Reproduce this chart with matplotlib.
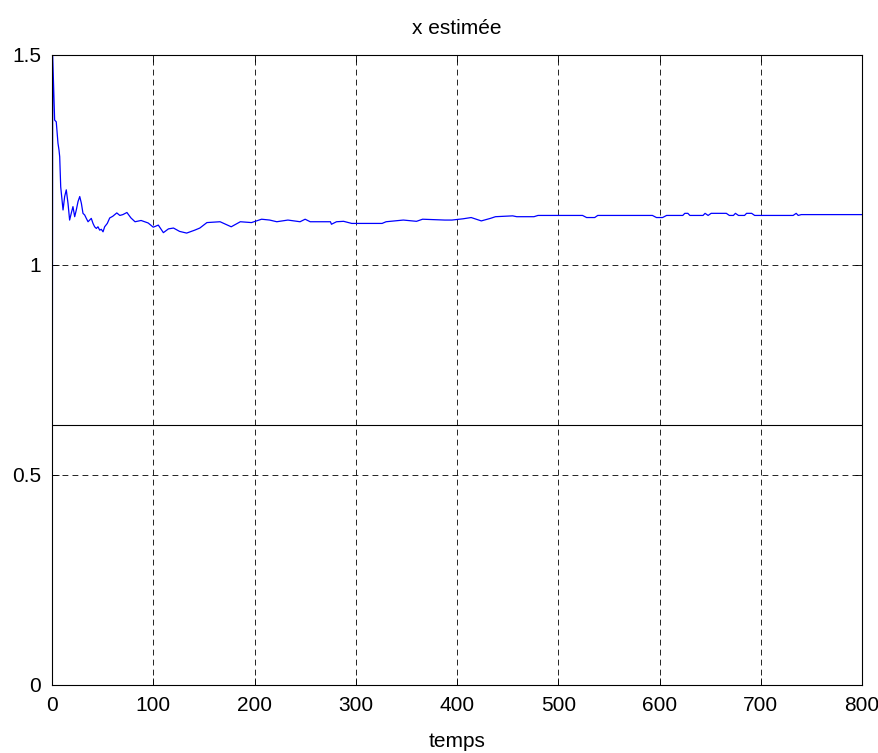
import matplotlib
matplotlib.use('Agg')
from matplotlib import pyplot as plt

# temps / x estimee
temps = [0, 0.7, 2.6, 4.2, 5.9, 6.9, 7.6, 8.6, 10.9, 12.5, 14.1, 15.8, 17.4, 19,
         20.7, 22.4, 24, 25.7, 27.4, 29, 30.6, 32.3, 33.9, 35.6, 37.2, 38.8,
         40.5, 42.1, 43.8, 45.4, 47.1, 48.7, 50.4, 52, 54.6, 57, 60, 64, 67, 70,
         74, 78, 82, 88, 95, 100, 105, 110, 115, 120, 126, 133, 141, 146, 153,
         166, 177, 186, 197, 207, 215, 222, 233, 245, 250, 255, 275, 276, 281,
         288, 296, 326, 330, 347, 360, 366, 388, 395, 406, 414, 424, 433, 438,
         455, 459, 476, 480, 524, 528, 536, 539, 593, 597, 603, 607, 623, 625,
         628, 630, 643, 645, 648, 651, 666, 669, 673, 675, 678, 684, 686, 691,
         694, 732, 735, 737, 740, 800]
x_est = [0, 1.497, 1.345, 1.341, 1.29, 1.274, 1.258, 1.186, 1.131, 1.163,
         1.179, 1.147, 1.107, 1.123, 1.139, 1.115, 1.131, 1.151, 1.163, 1.147,
         1.123, 1.119, 1.111, 1.103, 1.107, 1.111, 1.099, 1.091, 1.087, 1.091,
         1.083, 1.085, 1.079, 1.091, 1.099, 1.112, 1.116, 1.124, 1.118, 1.12,
         1.125, 1.112, 1.103, 1.106, 1.1, 1.09, 1.095, 1.077, 1.086, 1.088,
         1.08, 1.076, 1.083, 1.088, 1.101, 1.103, 1.091, 1.103, 1.101, 1.109,
         1.107, 1.103, 1.107, 1.103, 1.109, 1.103, 1.103, 1.097, 1.103, 1.104,
         1.099, 1.099, 1.103, 1.107, 1.104, 1.109, 1.107, 1.107, 1.110, 1.113,
         1.105, 1.111, 1.115, 1.117, 1.115, 1.115, 1.118, 1.118, 1.113, 1.113,
         1.118, 1.118, 1.113, 1.113, 1.118, 1.118, 1.123, 1.123, 1.118, 1.118,
         1.123, 1.118, 1.123, 1.123, 1.118, 1.118, 1.123, 1.118, 1.118, 1.123,
         1.123, 1.118, 1.118, 1.123, 1.118, 1.120, 1.120]
x_vrai = 0.618

xticks = [0, 100, 200, 300, 400, 500, 600, 700, 800]
yticks = [0, 0.5, 1, 1.5]

plt.rcParams['font.family'] = ['Liberation Sans', 'DejaVu Sans']
plt.rcParams['font.size'] = 15

fig = plt.figure(figsize=(8.79, 7.53), dpi=100)
ax = fig.add_axes([52/879, 68/753, 810/879, 630/753])

ax.plot(temps, x_est, color='#0000ff', lw=0.9)
ax.axhline(x_vrai, color='black', lw=0.8)

ax.set_xlim(0, 800)
ax.set_ylim(0, 1.5)
ax.set_xticks(xticks)
ax.set_yticks(yticks)
ax.set_yticklabels(['0', '0.5', '1', '1.5'])
ax.grid(True, color='black', linestyle=(0, (7, 5)), lw=0.6)
ax.tick_params(direction='in', top=True, right=True, length=5, width=0.6, pad=8)
for s in ax.spines.values():
    s.set_linewidth(0.8)

ax.set_title('x estimée', fontsize=15, pad=15)
ax.set_xlabel('temps', fontsize=15, labelpad=12)

fig.savefig('out.png', dpi=100)
